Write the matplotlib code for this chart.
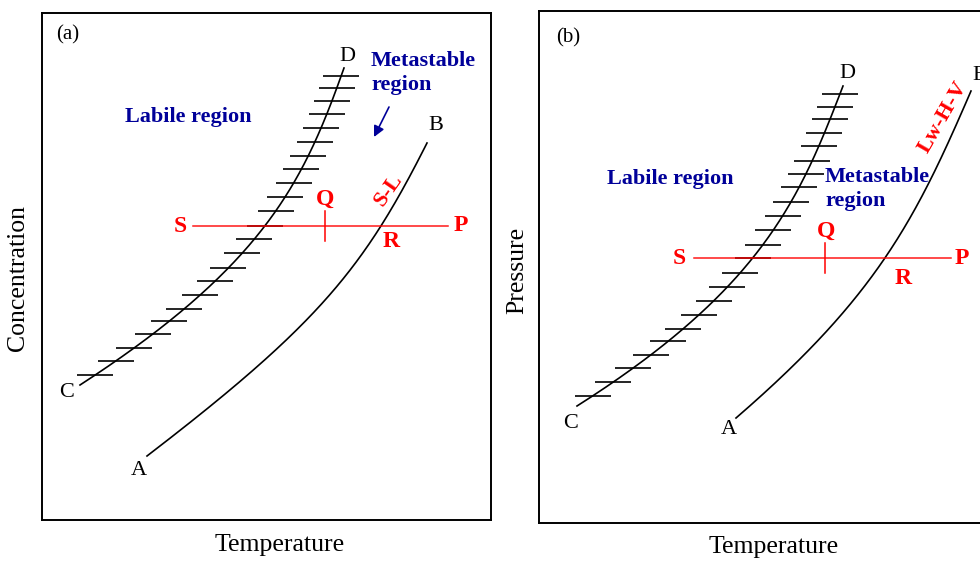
import numpy as np
import matplotlib.pyplot as plt
from matplotlib.path import Path

plt.rcParams['font.family'] = ['Liberation Serif', 'DejaVu Serif']

RED = '#ff0000'
BLUE = '#000099'

# curves as cubic bezier control points (temperature, concentration/pressure),
# read off the picture in image units
# panel (a)
cd_a_t = [80, 265, 304, 344]
cd_a_y = [385, 265, 181, 68]
ab_a_t = [147, 319, 364, 427]
ab_a_y = [456, 324, 268, 143]
hatch_a_y = [375, 361, 348, 334, 321, 309, 295, 281, 268, 253, 239, 226,
             211, 197, 183, 169, 156, 142, 128, 114, 101, 88, 76]
sp_a_t = [193, 448]
sp_a_y = 226
q_a_t = 325
q_a_y = [211, 241]

# panel (b)
cd_b_t = [577, 763, 800, 843]
cd_b_y = [406, 288, 198, 86]
ab_b_t = [736, 876, 915, 971]
ab_b_y = [418, 297, 221, 91]
hatch_b_y = [396, 382, 368, 355, 341, 329, 315, 301, 287, 273, 258, 245,
             230, 216, 202, 187, 174, 161, 146, 133, 119, 107, 94]
sp_b_t = [694, 951]
sp_b_y = 258
q_b_t = 825
q_b_y = [243, 273]

HATCH = 18

fig = plt.figure(figsize=(9.8, 5.61), dpi=100)
W, H = 980, 561

ax_a = fig.add_axes([42 / W, (H - 520) / H, 449 / W, 507 / H])
ax_a.set_xlim(42, 491)
ax_a.set_ylim(520, 13)

ax_b = fig.add_axes([539 / W, (H - 523) / H, 449 / W, 512 / H])
ax_b.set_xlim(539, 988)
ax_b.set_ylim(523, 11)

for ax in (ax_a, ax_b):
    ax.set_xticks([])
    ax.set_yticks([])
    for sp in ax.spines.values():
        sp.set_linewidth(1.4)


def bezier_points(ts, ys):
    path = Path(np.column_stack([ts, ys]),
                [Path.MOVETO, Path.CURVE4, Path.CURVE4, Path.CURVE4])
    seg = [s for s, code in path.iter_bezier() if code == Path.CURVE4][0]
    return seg(np.linspace(0, 1, 300))


def draw_panel(ax, cd_t, cd_y, ab_t, ab_y, hatch_y, sp_t, sp_y, q_t, q_y):
    cd = bezier_points(cd_t, cd_y)
    ab = bezier_points(ab_t, ab_y)
    ax.plot(cd[:, 0], cd[:, 1], color='black', lw=1.2)
    ax.plot(ab[:, 0], ab[:, 1], color='black', lw=1.2)
    # hatches sit on the labile boundary
    hx = np.interp(hatch_y, cd[::-1, 1], cd[::-1, 0])
    ax.hlines(hatch_y, hx - HATCH, hx + HATCH, color='black', lw=1.2)
    ax.plot(sp_t, [sp_y, sp_y], color=RED, lw=1.1, alpha=0.9)
    ax.plot([q_t, q_t], q_y, color=RED, lw=1.1)


draw_panel(ax_a, cd_a_t, cd_a_y, ab_a_t, ab_a_y, hatch_a_y,
           sp_a_t, sp_a_y, q_a_t, q_a_y)
draw_panel(ax_b, cd_b_t, cd_b_y, ab_b_t, ab_b_y, hatch_b_y,
           sp_b_t, sp_b_y, q_b_t, q_b_y)

letter = dict(fontsize=16, ha='center', va='center', color='black')
red = dict(fontsize=17, ha='center', va='center', color=RED, fontweight='bold')
blue = dict(fontsize=16, color=BLUE, fontweight='bold')

# panel (a) labels
ax_a.text(68, 35, '(a)', fontsize=15, ha='center', va='center')
ax_a.text(347, 57, 'D', **letter)
ax_a.text(436, 126, 'B', **letter)
ax_a.text(67, 393, 'C', **letter)
ax_a.text(139, 471, 'A', **letter)
ax_a.text(188, 117, 'Labile region', ha='center', va='center', **blue)
ax_a.text(371, 73, 'Metastable\nregion', ha='left', va='center',
          linespacing=1.25, **blue)
ax_a.annotate('', xy=(374, 137), xytext=(389, 107),
              arrowprops=dict(arrowstyle='-|>', color=BLUE, lw=1.2,
                              mutation_scale=16, shrinkA=0, shrinkB=0))
ax_a.text(180, 227, 'S', **red)
ax_a.text(461, 226, 'P', **red)
ax_a.text(325, 199, 'Q', **red)
ax_a.text(391, 242, 'R', **red)
ax_a.text(389, 190, 'S-L', rotation=55, fontsize=16, ha='center', va='center',
          color=RED, fontweight='bold')

ax_a.set_xlabel('Temperature', fontsize=18.5, va='center')
ax_a.xaxis.set_label_coords(280, 545, transform=ax_a.transData)
ax_a.set_ylabel('Concentration', fontsize=18.5, va='center')
ax_a.yaxis.set_label_coords(18, 278, transform=ax_a.transData)

# panel (b) labels
ax_b.text(568, 38, '(b)', fontsize=15, ha='center', va='center')
ax_b.text(847, 73, 'D', **letter)
ax_b.text(972, 75, 'B', fontsize=16, ha='left', va='center', color='black')
ax_b.text(571, 424, 'C', **letter)
ax_b.text(729, 430, 'A', **letter)
ax_b.text(670, 179, 'Labile region', ha='center', va='center', **blue)
ax_b.text(825, 189, 'Metastable\nregion', ha='left', va='center',
          linespacing=1.25, **blue)
ax_b.text(679, 259, 'S', **red)
ax_b.text(962, 259, 'P', **red)
ax_b.text(826, 231, 'Q', **red)
ax_b.text(903, 278, 'R', **red)
ax_b.text(943, 117, 'Lw-H-V', rotation=60, fontsize=16, ha='center',
          va='center', color=RED, fontweight='bold')

ax_b.set_xlabel('Temperature', fontsize=18.5, va='center')
ax_b.xaxis.set_label_coords(774, 547, transform=ax_b.transData)
ax_b.set_ylabel('Pressure', fontsize=18.5, va='center')
ax_b.yaxis.set_label_coords(517, 270, transform=ax_b.transData)

fig.savefig('out.png', dpi=100)
